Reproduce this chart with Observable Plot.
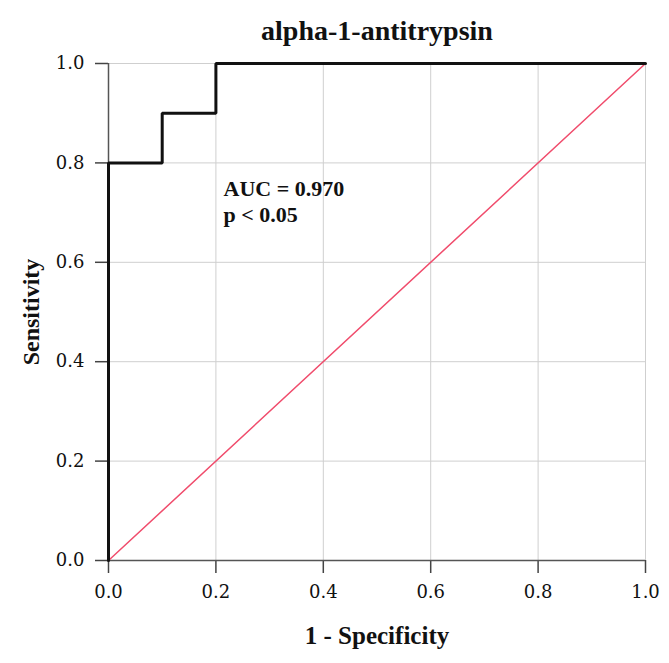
<!DOCTYPE html>
<html>
<head>
<meta charset="utf-8">
<script src="https://cdn.jsdelivr.net/npm/d3@7"></script>
<script src="https://cdn.jsdelivr.net/npm/@observablehq/plot@0.6"></script>
<style>
  html, body { margin: 0; padding: 0; background: #fff; }
</style>
</head>
<body>
<div id="chart"></div>
<script>
// ROC curve points (1 - specificity, sensitivity)
const rocFpr = [0, 0, 0.1, 0.1, 0.2, 0.2, 1.0];
const rocTpr = [0, 0.8, 0.8, 0.9, 0.9, 1.0, 1.0];
// Reference (chance) line
const refFpr = [0, 1];
const refTpr = [0, 1];
// Axis ticks
const tickValues = [0, 0.2, 0.4, 0.6, 0.8, 1.0];
const tickLabels = ["0.0", "0.2", "0.4", "0.6", "0.8", "1.0"];
// Texts
const chartTitle = "alpha-1-antitrypsin";
const xTitle = "1 - Specificity";
const yTitle = "Sensitivity";
const aucValue = "0.970";
const pText = "p < 0.05";

const roc = rocFpr.map((x, i) => ({x, y: rocTpr[i]}));
const ref = refFpr.map((x, i) => ({x, y: refTpr[i]}));
const fmt = d => tickLabels[tickValues.findIndex(t => Math.abs(t - d) < 1e-9)];

const serif = "'Liberation Serif', 'Times New Roman', serif";
const tickFont = "'DejaVu Serif', serif";

const plot = Plot.plot({
  width: 669,
  height: 663,
  marginTop: 63,
  marginBottom: 103,
  marginLeft: 108,
  marginRight: 24,
  style: {background: "#fff", overflow: "visible"},
  x: {domain: [0, 1]},
  y: {domain: [0, 1]},
  marks: [
    Plot.gridX(tickValues.slice(1), {stroke: "#cfcfcf", strokeOpacity: 1, strokeWidth: 1}),
    Plot.gridY(tickValues.slice(1), {stroke: "#cfcfcf", strokeOpacity: 1, strokeWidth: 1}),
    Plot.axisX(tickValues, {tickSize: 13, tickPadding: 12, tickFormat: fmt, fontSize: 18, fontFamily: tickFont, fill: "#111", stroke: "#444", strokeWidth: 1.5, label: null}),
    Plot.axisY(tickValues, {tickSize: 13, tickPadding: 11, tickFormat: fmt, fontSize: 18, fontFamily: tickFont, fill: "#111", stroke: "#444", strokeWidth: 1.5, label: null}),
    Plot.ruleX([0], {stroke: "#555", strokeWidth: 1.5}),
    Plot.ruleY([0], {stroke: "#555", strokeWidth: 1.5}),
    Plot.line(ref, {x: "x", y: "y", stroke: "#f04c6c", strokeWidth: 1.5}),
    Plot.line(roc, {x: "x", y: "y", stroke: "#111", strokeWidth: 3, strokeLinejoin: "miter"}),
    Plot.text([`AUC = ${aucValue}\n${pText}`], {frameAnchor: "top-left", dx: 115, dy: 158, lineAnchor: "bottom", textAnchor: "start", lineHeight: 1.15, fontSize: 22, fontWeight: "bold", fontFamily: serif, fill: "#111", ariaLabel: "auc"}),
    Plot.text([chartTitle], {frameAnchor: "top", dy: -24, lineAnchor: "bottom", fontSize: 28, fontWeight: "bold", fontFamily: serif, fill: "#111", ariaLabel: "title"}),
    Plot.text([xTitle], {frameAnchor: "bottom", dy: 83, lineAnchor: "bottom", fontSize: 25, fontWeight: "bold", fontFamily: serif, fill: "#111", ariaLabel: "xtitle"}),
    Plot.text([yTitle], {frameAnchor: "left", dx: -70, rotate: -90, textAnchor: "middle", lineAnchor: "bottom", fontSize: 24, fontWeight: "bold", fontFamily: serif, fill: "#111", ariaLabel: "ytitle"})
  ]
});
document.getElementById("chart").appendChild(plot);
const setLS = (label, v) => { const g = plot.querySelector(`g[aria-label="${label}"]`); if (g) g.style.letterSpacing = v; };
setLS("title", "0.7px");
setLS("xtitle", "0.8px");
setLS("ytitle", "0.3px");
setLS("auc", "0.9px");
</script>
</body>
</html>
